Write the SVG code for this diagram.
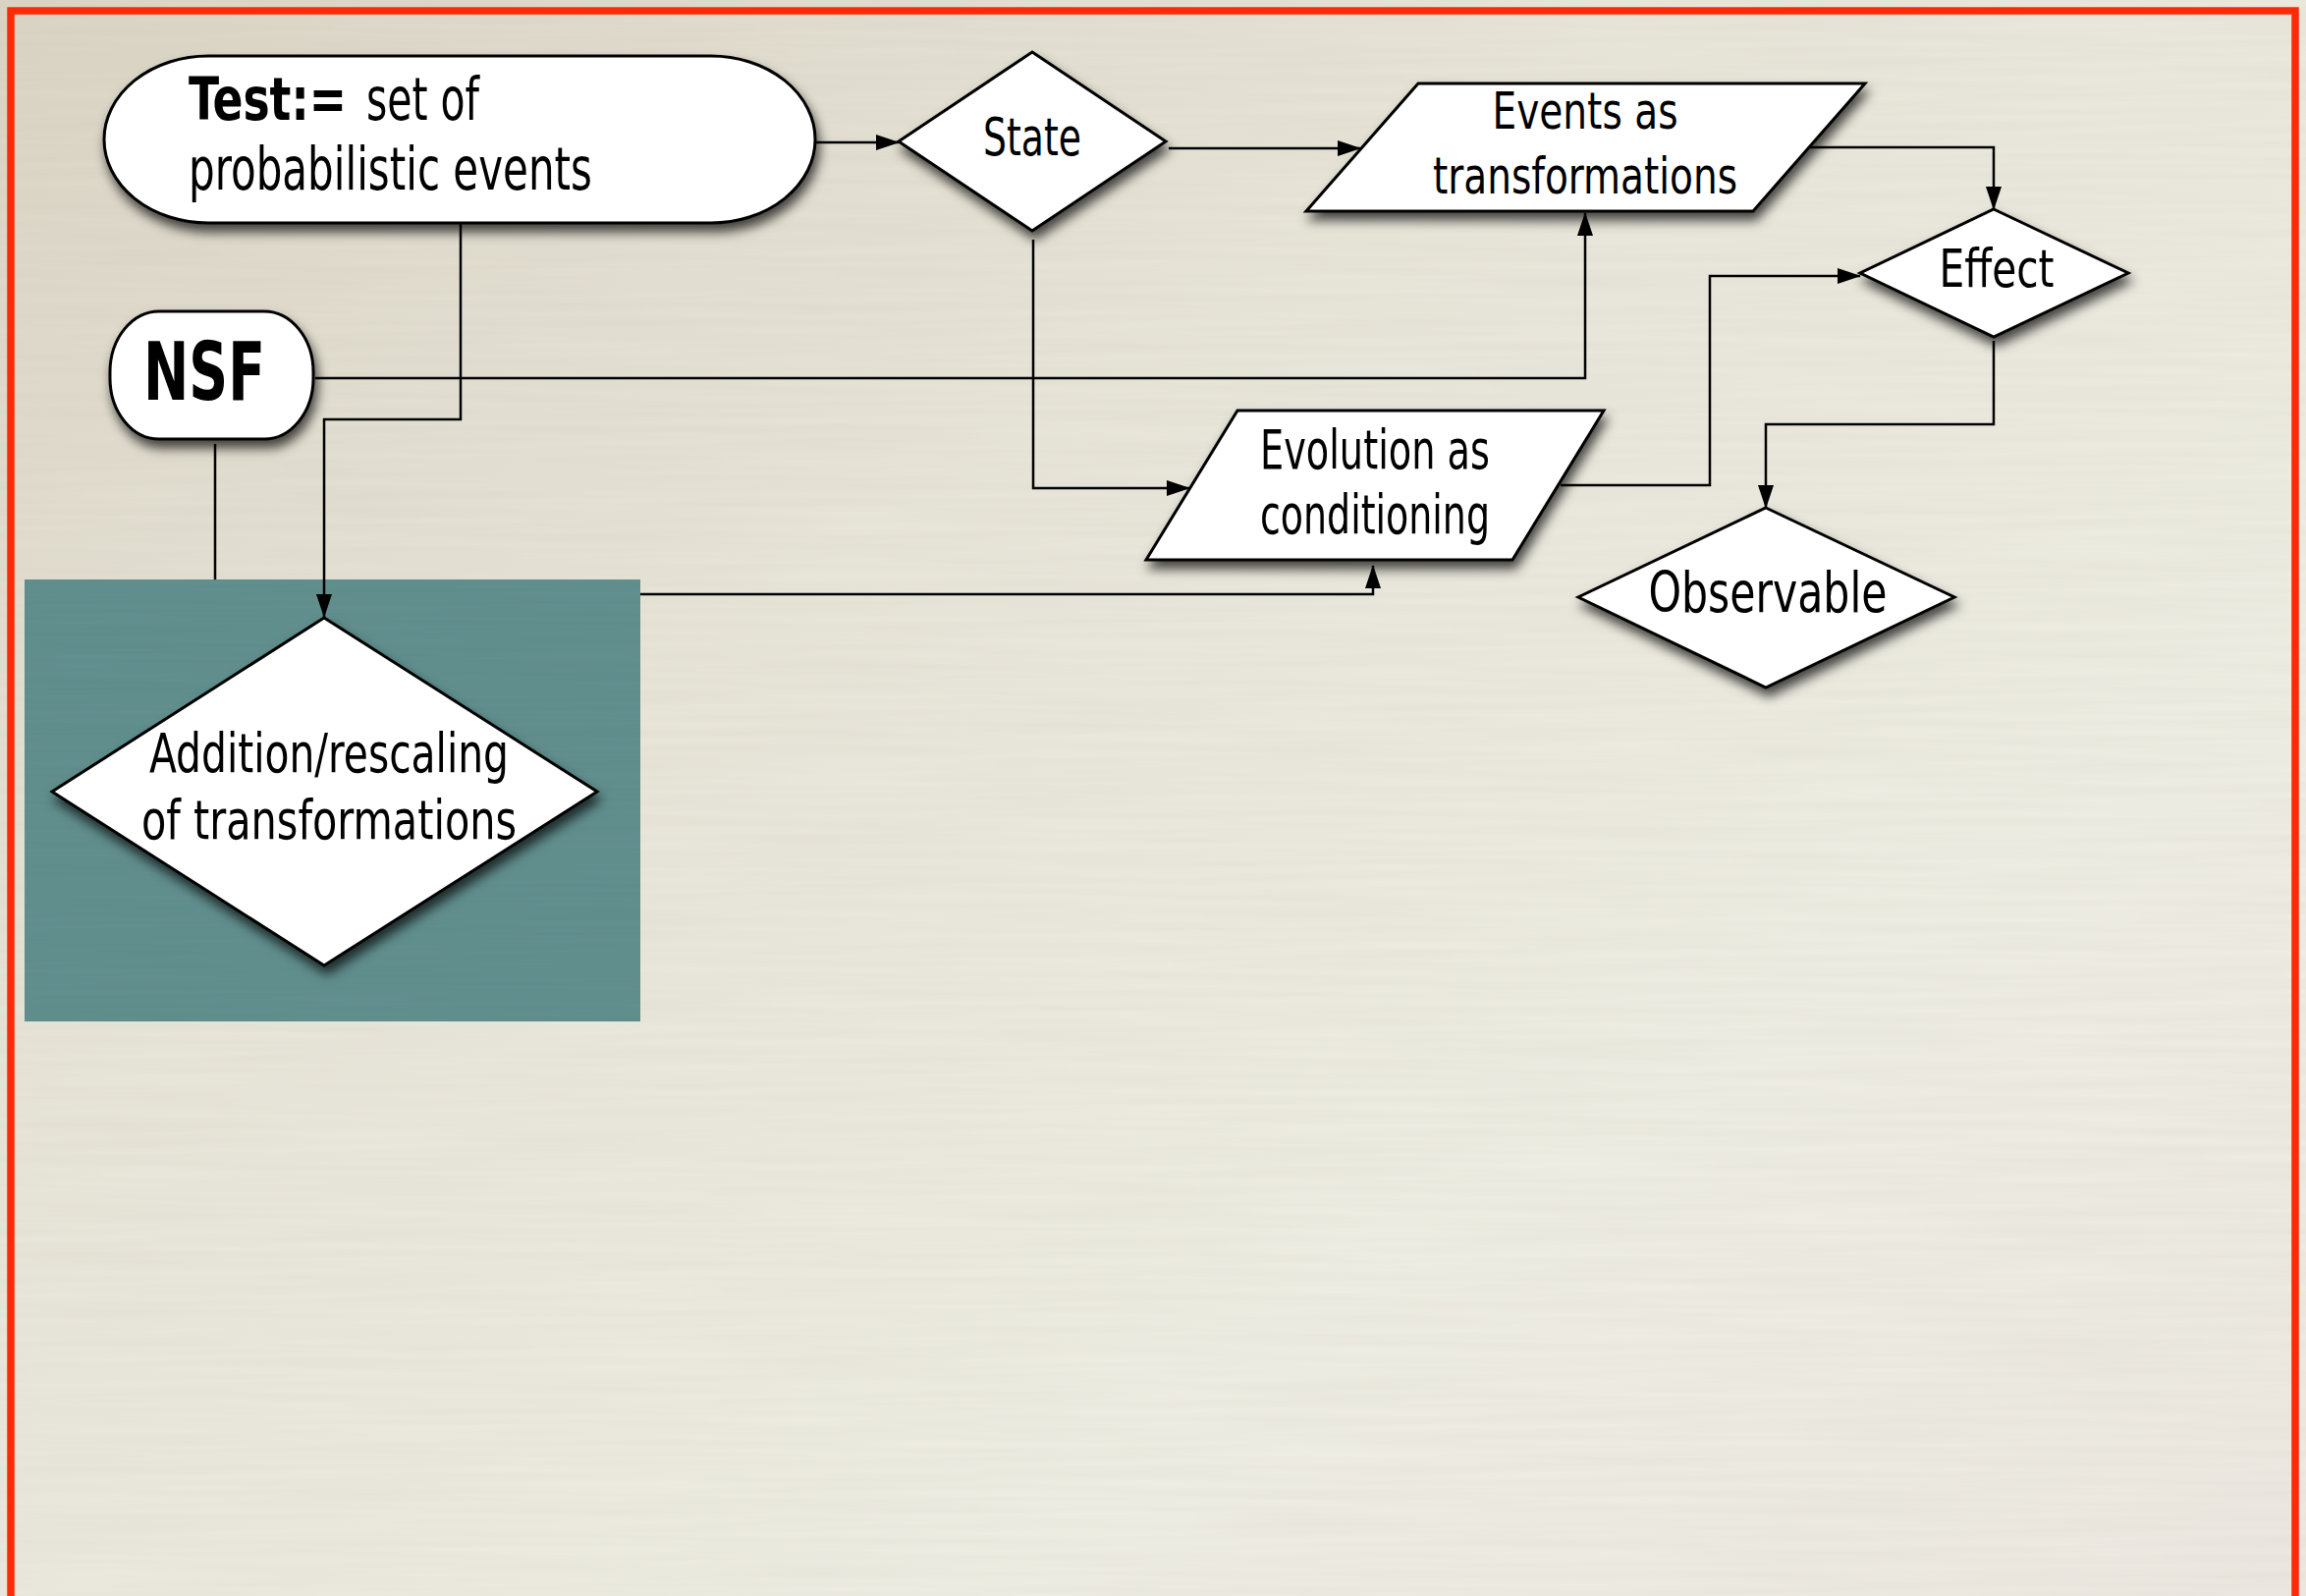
<svg xmlns="http://www.w3.org/2000/svg" width="2348" height="1625" viewBox="0 0 2348 1625">
  <defs>
    <linearGradient id="paper" x1="0" y1="0" x2="1" y2="1">
      <stop offset="0" stop-color="#dad4c4"/>
      <stop offset="0.35" stop-color="#e7e4d8"/>
      <stop offset="0.7" stop-color="#eeede3"/>
      <stop offset="1" stop-color="#ece8e1"/>
    </linearGradient>
    <filter id="grain" x="0" y="0" width="100%" height="100%">
      <feTurbulence type="fractalNoise" baseFrequency="0.004 0.12" numOctaves="2" seed="4" result="n"/>
      <feColorMatrix in="n" type="matrix" values="0 0 0 0 0.45  0 0 0 0 0.42  0 0 0 0 0.35  0 0 0 0.14 -0.03"/>
    </filter>
    <filter id="teal-grain" x="0" y="0" width="100%" height="100%">
      <feTurbulence type="fractalNoise" baseFrequency="0.004 0.25" numOctaves="2" seed="9" result="n"/>
      <feColorMatrix in="n" type="matrix" values="0 0 0 0 0.2  0 0 0 0 0.33  0 0 0 0 0.33  0 0 0 0.25 -0.06"/>
    </filter>
    <filter id="shadow" x="-20%" y="-20%" width="140%" height="160%">
      <feDropShadow dx="3" dy="8" stdDeviation="6" flood-color="#000" flood-opacity="0.7"/>
    </filter>
    <marker id="arrow" markerUnits="userSpaceOnUse" markerWidth="24" markerHeight="16" refX="23" refY="8" orient="auto">
      <path d="M0,0 L24,8 L0,16 z" fill="#000"/>
    </marker>
    <style>
      .shape { fill: #fff; stroke: #000; stroke-width: 3; filter: url(#shadow); }
      .wire { fill: none; stroke: #000; stroke-width: 2.5; }
      .arrowed { marker-end: url(#arrow); }
      .label { font-family: "Liberation Sans Narrow", "DejaVu Sans Condensed", "Liberation Sans", sans-serif; fill: #000; }
      .mid { text-anchor: middle; }
      .bold { font-weight: bold; }
    </style>
  </defs>

  <!-- paper background and frame -->
  <rect x="0" y="0" width="2348" height="1625" fill="url(#paper)"/>
  <rect x="0" y="0" width="2348" height="1625" filter="url(#grain)"/>
  <rect x="11" y="11" width="2326" height="1640" fill="none" stroke="#fb2b07" stroke-width="7.5"/>

  <!-- highlight panel behind the addition/rescaling step -->
  <g id="highlight">
    <rect x="25" y="590" width="627" height="450" fill="#5e8d8c"/>
    <rect x="25" y="590" width="627" height="450" filter="url(#teal-grain)"/>
  </g>

  <!-- connectors -->
  <g id="connectors">
    <path class="wire arrowed" d="M830,145 H915"/>
    <path class="wire arrowed" d="M1190,151 H1385"/>
    <path class="wire arrowed" d="M1843,150 H2030 V213"/>
    <path class="wire arrowed" d="M469,228 V427 H330 V628"/>
    <path class="wire arrowed" d="M321,385 H1614 V217"/>
    <path class="wire arrowed" d="M1052,244 V497 H1211"/>
    <path class="wire arrowed" d="M1589,494 H1741 V281 H1894"/>
    <path class="wire" d="M219,452 V590"/>
    <path class="wire arrowed" d="M652,605 H1398 V576"/>
    <path class="wire arrowed" d="M2030,347 V432 H1798 V517"/>
  </g>

  <!-- nodes -->
  <g id="test">
    <rect class="shape" x="106" y="57" width="724" height="170" rx="106" ry="85"/>
    <text class="label" x="192" y="122" font-size="60"><tspan class="bold" textLength="161" lengthAdjust="spacingAndGlyphs">Test:=</tspan><tspan x="373" textLength="115" lengthAdjust="spacingAndGlyphs">set of</tspan></text>
    <text class="label" x="192" y="193" font-size="60" textLength="411" lengthAdjust="spacingAndGlyphs">probabilistic events</text>
  </g>

  <g id="nsf">
    <rect class="shape" x="112" y="317" width="207" height="130" rx="50" ry="62"/>
    <text class="label bold" x="146" y="407" font-size="82" textLength="124" lengthAdjust="spacingAndGlyphs">NSF</text>
  </g>

  <g id="state">
    <polygon class="shape" points="1051,53 1187,144 1051,235 915,144"/>
    <text class="label mid" x="1051" y="158" font-size="54" textLength="100" lengthAdjust="spacingAndGlyphs">State</text>
  </g>

  <g id="events">
    <polygon class="shape" points="1444,85 1899,85 1785,215 1330,215"/>
    <text class="label mid" x="1614" y="131" font-size="52" textLength="189" lengthAdjust="spacingAndGlyphs">Events as</text>
    <text class="label mid" x="1614" y="197" font-size="52" textLength="310" lengthAdjust="spacingAndGlyphs">transformations</text>
  </g>

  <g id="effect">
    <polygon class="shape" points="2030,213 2167,278 2030,343 1894,278"/>
    <text class="label mid" x="2033" y="292" font-size="54" textLength="117" lengthAdjust="spacingAndGlyphs">Effect</text>
  </g>

  <g id="evolution">
    <polygon class="shape" points="1260,418 1633,418 1540,570 1167,570"/>
    <text class="label mid" x="1400" y="477" font-size="55" textLength="234" lengthAdjust="spacingAndGlyphs">Evolution as</text>
    <text class="label mid" x="1400" y="543" font-size="55" textLength="234" lengthAdjust="spacingAndGlyphs">conditioning</text>
  </g>

  <g id="observable">
    <polygon class="shape" points="1798,517 1990,608 1798,700 1607,608"/>
    <text class="label mid" x="1800" y="623" font-size="57" textLength="243" lengthAdjust="spacingAndGlyphs">Observable</text>
  </g>

  <g id="addition">
    <polygon class="shape" points="330,629 608,806 330,983 53,806"/>
    <text class="label mid" x="335" y="786" font-size="56" textLength="366" lengthAdjust="spacingAndGlyphs">Addition/rescaling</text>
    <text class="label mid" x="335" y="854" font-size="56" textLength="382" lengthAdjust="spacingAndGlyphs">of transformations</text>
  </g>
</svg>
